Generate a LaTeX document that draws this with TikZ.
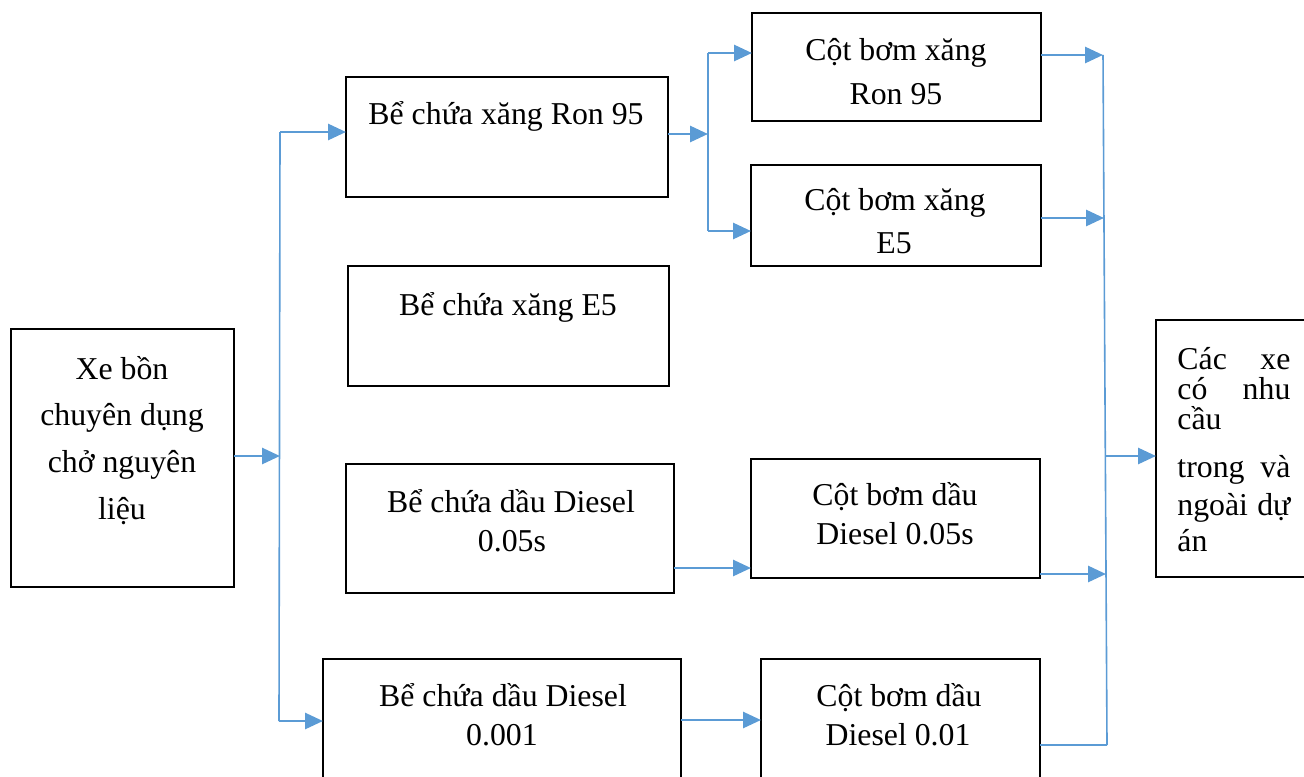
\documentclass[tikz,border=0pt]{standalone}
\usepackage{fontspec}
\setmainfont{Liberation Serif}
\usetikzlibrary{arrows.meta,fit}
\definecolor{flow}{RGB}{91,155,213}
\begin{document}
\begin{tikzpicture}[x=0.5pt,y=-0.5pt,
  box/.style={draw=black, line width=1pt, inner sep=0pt, outer sep=0pt},
  txt/.style={font=\fontsize{15.9pt}{19pt}\selectfont, inner sep=0pt, anchor=base},
  conn/.style={draw=flow, line width=1.4pt},
  arr/.style={conn, -{Triangle[length=9pt,width=8pt]}},
  rail/.style={draw=flow, line width=0.8pt}]
\useasboundingbox (0,0) rectangle (1304,776);
\clip (0,0) rectangle (1304,776);

% boxes
\node[box, fit={(11,329)(234,587)}] (xe) {};
\node[box, fit={(346,77)(668,197)}] (r95) {};
\node[box, fit={(348,266)(669,386)}] (e5) {};
\node[box, fit={(346,464)(674,593)}] (d05) {};
\node[box, fit={(323,659)(681,800)}] (d001) {};
\node[box, fit={(752,13)(1041,121)}] (pr95) {};
\node[box, fit={(751,165)(1041,266)}] (pe5) {};
\node[box, fit={(751,459)(1040,578)}] (pd05) {};
\node[box, fit={(761,659)(1040,800)}] (pd01) {};
\node[box, fit={(1156,320)(1330,577)}] (cac) {};

% texts
\node[txt] (xe1) at (122,379) {Xe bồn};
\node[txt] (xe2) at (122,425) {chuyên dụng};
\node[txt] (xe3) at (122,472) {chở nguyên};
\node[txt] (xe4) at (122,519) {liệu};

\node[txt] (r95t) at (506,124) {Bể chứa xăng Ron 95};
\node[txt] (e5t) at (508,315) {Bể chứa xăng E5};
\node[txt] (d05a) at (511,512) {Bể chứa dầu Diesel};
\node[txt] (d05b) at (512,551) {0.05s};
\node[txt] (d001a) at (503,706) {Bể chứa dầu Diesel};
\node[txt] (d001b) at (502,745) {0.001};

\node[txt] (pr95a) at (896,60) {Cột bơm xăng};
\node[txt] (pr95b) at (896,104) {Ron 95};
\node[txt] (pe5a) at (895,210) {Cột bơm xăng};
\node[txt] (pe5b) at (894,253) {E5};
\node[txt] (pd05a) at (895,505) {Cột bơm dầu};
\node[txt] (pd05b) at (895,544) {Diesel 0.05s};
\node[txt] (pd01a) at (899,706) {Cột bơm dầu};
\node[txt] (pd01b) at (898,745) {Diesel 0.01};

\node[txt, anchor=base west] (c1) at (1177,369) {\makebox[56.5pt][s]{Các xe}};
\node[txt, anchor=base west] (c2) at (1177,399) {\makebox[56.5pt][s]{có nhu}};
\node[txt, anchor=base west] (c3) at (1177,429) {cầu};
\node[txt, anchor=base west] (c4) at (1177,477) {\makebox[56.5pt][s]{trong và}};
\node[txt, anchor=base west] (c5) at (1177,515) {\makebox[56.5pt][s]{ngoài dự}};
\node[txt, anchor=base west] (c6) at (1177,551) {án};

% supply split from the tanker
\coordinate (jL) at (280,456);
\coordinate (jLt) at (280,132);
\coordinate (jLb) at (279,721);
\draw[rail] (jLt) -- (jLb);
\draw[arr] (xe.east |- jL) -- (jL);
\draw[arr] (jLt) -- (jLt -| r95.west);
\draw[arr] (jLb) -- (jLb -| d001.west);

% Ron 95 tank to the petrol pumps
\coordinate (jR) at (708,134);
\coordinate (jRt) at (708,53);
\coordinate (jRb) at (708,231);
\draw[rail] (jRt) -- (jRb);
\draw[arr] (r95.east |- jR) -- (jR);
\draw[arr] (jRt) -- (jRt -| pr95.west);
\draw[arr] (jRb) -- (jRb -| pe5.west);

% diesel tanks to diesel pumps
\coordinate (m1) at (700,568);
\coordinate (m2) at (700,720);
\draw[arr] (d05.east |- m1) -- (pd05.west |- m1);
\draw[arr] (d001.east |- m2) -- (pd01.west |- m2);

% pumps to the customers
\coordinate (rt) at (1103,55);
\coordinate (r2) at (1104,218);
\coordinate (r3) at (1106,574);
\coordinate (rb) at (1107,745);
\coordinate (r4) at (1105,456);
\draw[rail] (rt) -- (rb);
\draw[arr] (pr95.east |- rt) -- (rt);
\draw[arr] (pe5.east |- r2) -- (r2);
\draw[arr] (pd05.east |- r3) -- (r3);
\draw[conn] (pd01.east |- rb) -- (rb);
\draw[arr] (r4) -- (r4 -| cac.west);
\end{tikzpicture}
\end{document}
